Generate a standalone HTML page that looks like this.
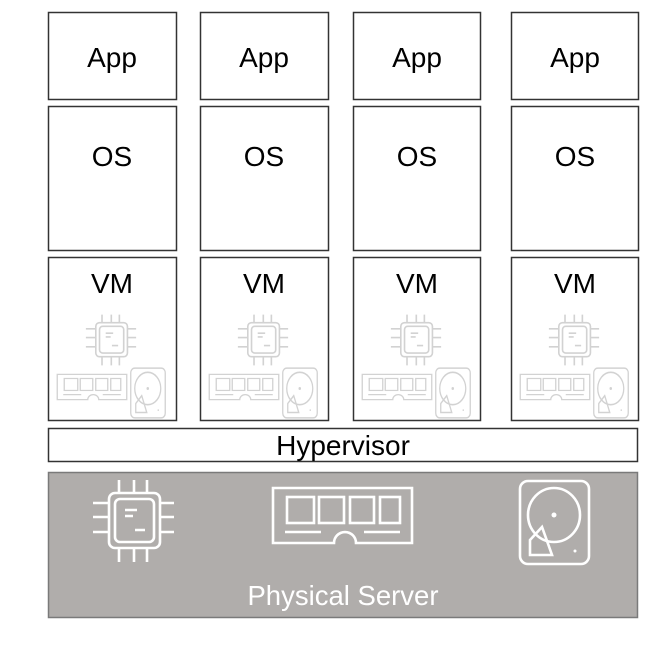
<!DOCTYPE html>
<html><head><meta charset="utf-8"><style>
html,body{margin:0;padding:0;background:#fff;}
svg{display:block;}
text{font-family:"Liberation Sans",sans-serif;}
</style></head><body>
<svg width="665" height="650" viewBox="0 0 665 650" xmlns="http://www.w3.org/2000/svg">
<defs>
<g id="chip" fill="none" stroke-linecap="butt">
  <path d="M119 480V493M134 480V493M147 480V493M119 548V562M134 548V562M147 548V562M93 503H109M93 517H109M93 532H109M160 503H174M160 517H174M160 532H174"/>
  <rect x="109" y="493" width="51" height="55" rx="6"/>
  <rect x="115" y="499" width="39" height="43" rx="5"/>
  <path d="M125 510H137M125 516H133M135 530H145"/>
</g>
<g id="ram" fill="none">
  <path d="M273 488H412V543H356A11 11 0 0 0 334 543H273Z"/>
  <rect x="287" y="497" width="27" height="26"/>
  <rect x="319" y="497" width="25" height="26"/>
  <rect x="350" y="497" width="24" height="26"/>
  <rect x="380" y="497" width="20" height="26"/>
  <path d="M285 532H321M364 532H400"/>
</g>
<g id="disk" fill="none">
  <rect x="520" y="481" width="69" height="83" rx="8"/>
  <ellipse cx="554" cy="515" rx="26" ry="27"/>
  <circle cx="554" cy="515" r="2.5" fill="currentColor" stroke="none"/>
  <path d="M542 527L530 540V555H552Z"/>
  <circle cx="575" cy="551" r="1.5" fill="currentColor" stroke="none"/>
</g>
<g id="vm" stroke="#d2d2d2" color="#d2d2d2" stroke-width="2.6">
  <use href="#chip" transform="translate(63 340) scale(0.62) translate(-133.5 -521)"/>
  <use href="#ram" transform="translate(44 387) scale(0.5 0.46) translate(-342.5 -515.5)"/>
  <use href="#disk" transform="translate(100 393) scale(0.5 0.6) translate(-554.5 -522.5)"/>
</g>
</defs>

<g fill="#fff" stroke="#333" stroke-width="1.5">
  <rect x="48.5" y="12.5" width="128" height="87"/>
  <rect x="200.5" y="12.5" width="128" height="87"/>
  <rect x="353.5" y="12.5" width="127" height="87"/>
  <rect x="511.5" y="12.5" width="127" height="87"/>
  <rect x="48.5" y="106.5" width="128" height="144"/>
  <rect x="200.5" y="106.5" width="128" height="144"/>
  <rect x="353.5" y="106.5" width="127" height="144"/>
  <rect x="511.5" y="106.5" width="127" height="144"/>
  <rect x="48.5" y="257.5" width="128" height="163"/>
  <rect x="200.5" y="257.5" width="128" height="163"/>
  <rect x="353.5" y="257.5" width="127" height="163"/>
  <rect x="511.5" y="257.5" width="127" height="163"/>
  <rect x="48.5" y="428.5" width="589" height="33"/>
</g>
<rect x="48.5" y="472.5" width="589" height="145" fill="#b0adab" stroke="#7a7a7a" stroke-width="1.5"/>

<g font-size="28" fill="#000" text-anchor="middle">
  <text x="112" y="67">App</text><text x="264" y="67">App</text><text x="417" y="67">App</text><text x="575" y="67">App</text>
  <text x="112" y="166">OS</text><text x="264" y="166">OS</text><text x="417" y="166">OS</text><text x="575" y="166">OS</text>
  <text x="112" y="293">VM</text><text x="264" y="293">VM</text><text x="417" y="293">VM</text><text x="575" y="293">VM</text>
  <text x="343" y="455">Hypervisor</text>
</g>

<use href="#vm" x="48" y="0"/>
<use href="#vm" x="200" y="0"/>
<use href="#vm" x="353" y="0"/>
<use href="#vm" x="511" y="0"/>

<g stroke="#fff" color="#fff" stroke-width="2.6">
  <use href="#chip"/>
  <use href="#ram"/>
  <use href="#disk"/>
</g>
<text x="343" y="605" font-size="27.5" fill="#fff" text-anchor="middle">Physical Server</text>
</svg>
</body></html>
